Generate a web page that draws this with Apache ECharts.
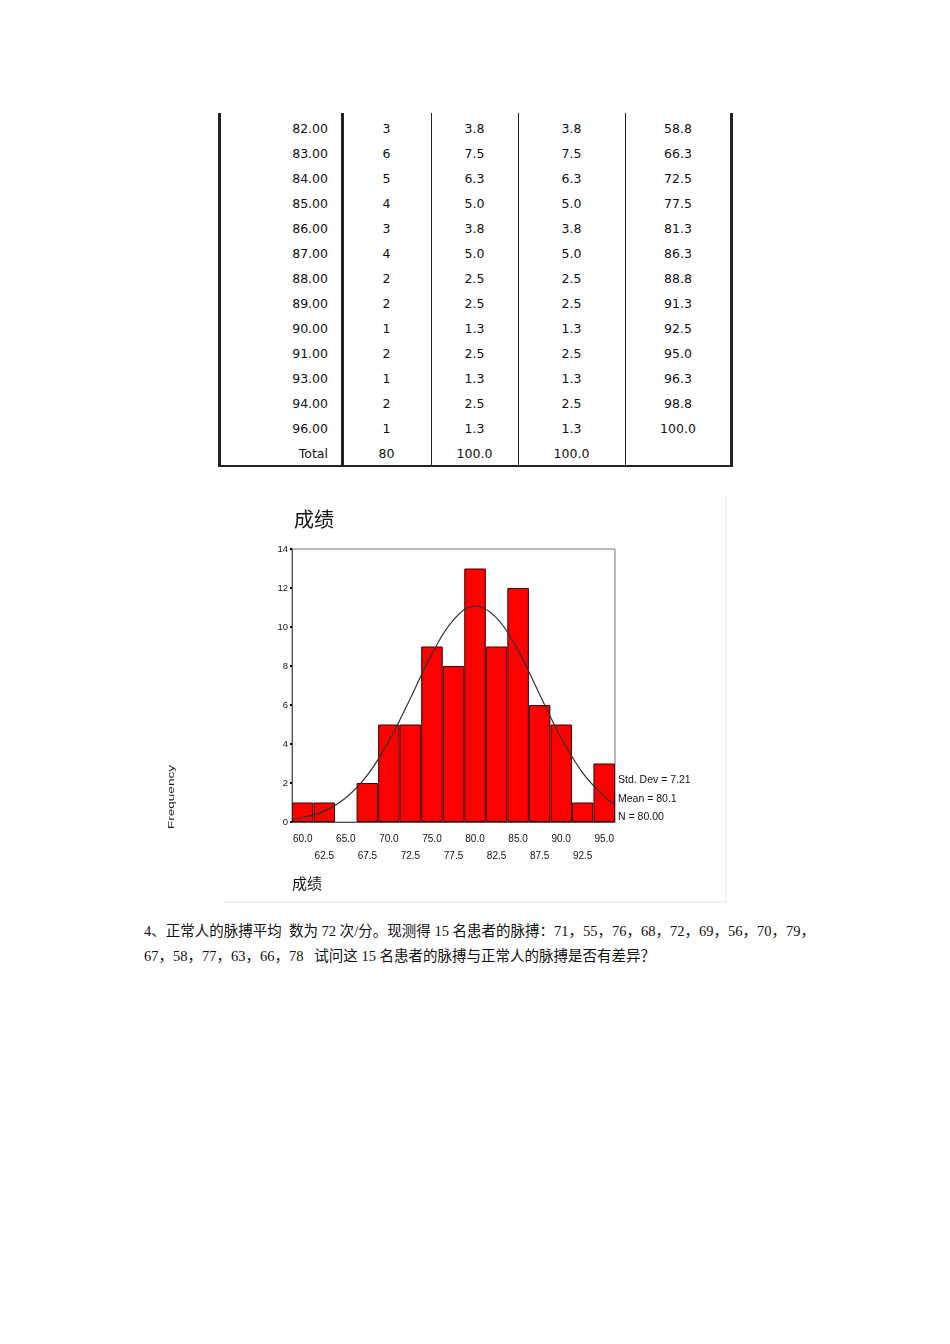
<!DOCTYPE html>
<html>
<head>
<meta charset="utf-8">
<script src="https://cdn.jsdelivr.net/npm/echarts@6/dist/echarts.min.js"></script>
<style>
    body { margin: 0; background: #fff; }
    #page { position: relative; width: 950px; height: 1344px; overflow: hidden; background: #fff; }
    .vline { position: absolute; background: #222; }
    .cell { position: absolute; height: 25px; line-height: 25px; font-family: "DejaVu Sans", sans-serif; font-size: 12.5px; color: #111; }
    #chart { position: absolute; left: 160px; top: 495px; width: 570px; height: 410px; }
    .para { position: absolute; left: 144px; white-space: pre; font-family: "Liberation Serif", "Noto Sans CJK SC", serif; font-size: 14.5px; color: #111; }
</style>
</head>
<body>
<div id="page">
    <div id="table"></div>
    <div id="chart"></div>
    <div class="para" style="top:919px;">4、正常人的脉搏平均  数为 72 次/分。现测得 15 名患者的脉搏：71，55，76，68，72，69，56，70，79，</div>
    <div class="para" style="top:944px;">67，58，77，63，66，78   试问这 15 名患者的脉搏与正常人的脉搏是否有差异？</div>
</div>
<script>
    // 频数表（接上页）
    var tableRows = [
        ['82.00', '3', '3.8', '3.8', '58.8'],
        ['83.00', '6', '7.5', '7.5', '66.3'],
        ['84.00', '5', '6.3', '6.3', '72.5'],
        ['85.00', '4', '5.0', '5.0', '77.5'],
        ['86.00', '3', '3.8', '3.8', '81.3'],
        ['87.00', '4', '5.0', '5.0', '86.3'],
        ['88.00', '2', '2.5', '2.5', '88.8'],
        ['89.00', '2', '2.5', '2.5', '91.3'],
        ['90.00', '1', '1.3', '1.3', '92.5'],
        ['91.00', '2', '2.5', '2.5', '95.0'],
        ['93.00', '1', '1.3', '1.3', '96.3'],
        ['94.00', '2', '2.5', '2.5', '98.8'],
        ['96.00', '1', '1.3', '1.3', '100.0'],
        ['Total', '80', '100.0', '100.0', '']
    ];

    // 直方图
    var binLabels = ['60.0', '62.5', '65.0', '67.5', '70.0', '72.5', '75.0', '77.5', '80.0', '82.5', '85.0', '87.5', '90.0', '92.5', '95.0'];
    var binCounts = [1, 1, 0, 2, 5, 5, 9, 8, 13, 9, 12, 6, 5, 1, 3];
    // 正态曲线
    var curveX = [58.75, 60, 62.5, 65, 67.5, 70, 72.5, 75, 77.5, 80, 82.5, 85, 87.5, 90, 92.5, 95, 96.25];
    var curveY = [0.14, 0.23, 0.56, 1.24, 2.4, 4.15, 6.35, 8.62, 10.37, 11.07, 10.47, 8.79, 6.54, 4.31, 2.52, 1.31, 0.9];
    var statLines = ['Std. Dev = 7.21', 'Mean = 80.1', 'N = 80.00'];

    // 画表格
    var colEdges = [219, 342, 431, 518, 625, 731];
    var tableTop = 116, rowH = 25;
    var html = '';
    for (var i = 0; i < tableRows.length; i++) {
        var row = tableRows[i];
        var rowTop = tableTop + i * rowH;
        html += '<div class="cell" style="top:' + rowTop + 'px;left:' + colEdges[0] + 'px;width:' + (colEdges[1] - colEdges[0] - 14) + 'px;text-align:right;">' + row[0] + '</div>';
        for (var j = 1; j < row.length; j++) {
            html += '<div class="cell" style="top:' + rowTop + 'px;left:' + colEdges[j] + 'px;width:' + (colEdges[j + 1] - colEdges[j]) + 'px;text-align:center;">' + row[j] + '</div>';
        }
    }
    var tableBottom = tableTop + tableRows.length * rowH;
    var widths = [3, 3, 1, 1, 1, 3];
    for (var k = 0; k < colEdges.length; k++) {
        html += '<div class="vline" style="left:' + (colEdges[k] - Math.floor(widths[k] / 2)) + 'px;top:113px;width:' + widths[k] + 'px;height:' + (tableBottom - 113) + 'px;"></div>';
    }
    html += '<div class="vline" style="left:218px;top:' + (tableBottom - 1) + 'px;width:515px;height:2px;"></div>';
    document.getElementById('table').innerHTML = html;

    var chart = echarts.init(document.getElementById('chart'), null, { renderer: 'canvas' });
    var curveData = [];
    for (var c = 0; c < curveX.length; c++) {
        curveData.push([curveX[c], curveY[c]]);
    }
    // 空的组不画柱子
    var barData = [];
    for (var b = 0; b < binCounts.length; b++) {
        barData.push(binCounts[b] ? binCounts[b] : '-');
    }
    var statTexts = [];
    for (var s = 0; s < statLines.length; s++) {
        statTexts.push({
            type: 'text', left: 458, top: 280 + s * 18.5,
            style: { text: statLines[s], fontSize: 10.5, fontFamily: 'Liberation Sans', fill: '#111' }
        });
    }

    var option = {
        animation: false,
        title: {
            text: '成绩', left: 129, top: 9,
            textStyle: { fontSize: 20, fontWeight: 'normal', color: '#111', fontFamily: 'Noto Sans CJK SC' }
        },
        grid: {
            left: 132, top: 54, width: 323, height: 273,
            show: true, borderColor: '#777', borderWidth: 1
        },
        xAxis: [{
            type: 'category',
            data: binLabels,
            axisLine: { lineStyle: { color: '#555' } },
            axisTick: { alignWithLabel: true, length: 4, lineStyle: { color: '#000', width: 2 } },
            axisLabel: {
                interval: 0, fontSize: 10, fontFamily: 'Liberation Sans', color: '#111', margin: 9, lineHeight: 17,
                formatter: function (v, i) { return i % 2 ? '\n' + v : v; }
            }
        }, {
            type: 'value', min: 58.75, max: 96.25, show: false
        }],
        yAxis: {
            type: 'value', min: 0, max: 14, interval: 2,
            axisLine: { show: true, lineStyle: { color: '#555' } },
            axisTick: { show: true, length: 2, lineStyle: { color: '#000', width: 2 } },
            axisLabel: { fontSize: 9.5, fontFamily: 'Liberation Sans', color: '#111', margin: 4 },
            splitLine: { show: false }
        },
        series: [{
            type: 'bar',
            data: barData,
            barCategoryGap: 0,
            itemStyle: { color: '#ff0000', borderColor: '#3a0000', borderWidth: 1 }
        }, {
            type: 'line',
            xAxisIndex: 1,
            data: curveData,
            smooth: 0.4,
            symbol: 'none',
            lineStyle: { color: '#333', width: 1.2 }
        }],
        graphic: [
            {
                type: 'text', x: 12, y: 302, rotation: Math.PI / 2, scaleX: 1.5,
                style: { text: 'Frequency', fontSize: 9, fontFamily: 'Liberation Sans', fill: '#222', align: 'center', verticalAlign: 'middle' }
            },
            {
                type: 'text', left: 132, top: 381,
                style: { text: '成绩', fontSize: 15, fontFamily: 'Noto Sans CJK SC', fill: '#111' }
            },
            {
                type: 'line', shape: { x1: 566, y1: 2, x2: 566, y2: 407 },
                style: { stroke: '#e2e2e2', lineWidth: 1 }
            },
            {
                type: 'line', shape: { x1: 64, y1: 407, x2: 566, y2: 407 },
                style: { stroke: '#e2e2e2', lineWidth: 1 }
            }
        ].concat(statTexts)
    };
    chart.setOption(option);
</script>
</body>
</html>
